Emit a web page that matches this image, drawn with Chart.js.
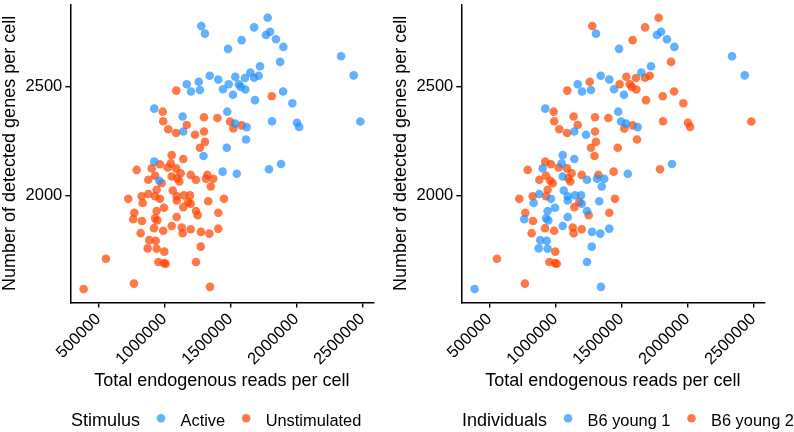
<!DOCTYPE html>
<html>
<head>
<meta charset="utf-8">
<script src="https://cdn.jsdelivr.net/npm/chart.js@4/dist/chart.umd.min.js"></script>
<style>
html, body { margin: 0; padding: 0; background: #fff; }
#wrap { position: relative; width: 794px; height: 432px; }
.panel { position: absolute; top: 0; height: 432px; }
</style>
</head>
<body>
<div id="wrap">
  <div class="panel" style="left:0;width:391px"><canvas id="stimulusChart"></canvas></div>
  <div class="panel" style="left:391px;width:403px"><canvas id="individualChart"></canvas></div>
</div>
<script>
// one entry per cell
const reads = [
    1783000, 1280000, 1308000, 1680000, 1801000, 1770000, 1846000, 1902000, 1586000, 1483000,
    2339000, 2435000, 2485000, 1877000, 1725000, 1652000, 1715000, 1680000, 1611000, 1538000,
    1564000, 1579000, 1614000, 1488000, 1445000, 1520000, 1409000, 1344000, 1261000, 1170000,
    1202000, 1270000, 1814000, 1900000, 1687000, 1970000, 1477000, 1816000, 2005000, 2021000,
    1301000, 1402000, 1498000, 1536000, 1523000, 1586000, 1624000, 1619000, 1473000, 1297000,
    1884000, 1442000, 1549000, 1793000,
    1091000, 924000, 988000, 1139000, 992000, 1030000, 1089000, 1144000, 1170000, 1233000,
    1301000, 1308000, 1270000,
    1056000, 1144000, 924000, 967000, 1049000, 791000, 905000, 1026000, 1089000, 1124000,
    930000, 962000, 879000, 980000, 1056000, 1099000, 1114000, 1200000, 1240000, 1326000,
    1316000, 1371000, 1352000, 727000, 829000, 836000, 879000, 942000, 930000, 967000,
    1064000, 1094000, 1094000, 1149000, 1195000, 1182000, 1200000, 1144000, 1333000, 1452000,
    773000, 765000, 831000, 942000, 998000, 930000, 947000, 1094000, 1240000, 1253000,
    1409000, 821000, 922000, 992000, 1056000, 1132000, 1139000, 1200000, 1278000, 1341000,
    1409000, 886000, 935000, 874000, 942000, 1000000, 1276000, 955000, 998000, 1011000,
    1240000, 389000, 558000, 770000, 1346000,
];
const genes = [
    2818, 2780, 2745, 2774, 2754, 2739, 2719, 2684, 2715, 2675,
    2641, 2553, 2341, 2615, 2595, 2566, 2551, 2542, 2541, 2547,
    2512, 2500, 2488, 2512, 2489, 2464, 2534, 2551, 2524, 2512,
    2479, 2486, 2457, 2479, 2439, 2425, 2386, 2342, 2335, 2316,
    2360, 2357, 2341, 2331, 2309, 2323, 2315, 2258, 2220, 2182,
    2145, 2110, 2100, 2121,
    2483, 2400, 2386, 2364, 2342, 2305, 2288, 2295, 2325, 2280,
    2295, 2247, 2220,
    2186, 2168, 2156, 2144, 2148, 2118, 2125, 2129, 2125, 2103,
    2091, 2068, 2073, 2057, 2088, 2080, 2065, 2095, 2073, 2095,
    2077, 2077, 2042, 1985, 1997, 1966, 2007, 2027, 1997, 1985,
    2023, 1997, 1977, 2001, 2001, 1970, 1962, 1947, 1974, 1985,
    1921, 1891, 1883, 1929, 1944, 1895, 1886, 1901, 1929, 1910,
    1921, 1827, 1850, 1838, 1860, 1853, 1827, 1845, 1833, 1825,
    1848, 1795, 1792, 1757, 1755, 1742, 1765, 1694, 1689, 1686,
    1694, 1570, 1709, 1595, 1580,
];
// 0 = Active, 1 = Unstimulated
const stimulus = [
    0, 0, 0, 0, 0, 0, 0, 0, 0, 0,
    0, 0, 0, 0, 0, 0, 0, 0, 0, 0,
    0, 0, 0, 0, 0, 0, 0, 0, 0, 0,
    0, 0, 1, 0, 0, 0, 0, 0, 0, 0,
    1, 1, 1, 0, 1, 1, 0, 0, 0, 0,
    0, 0, 0, 0,
    1, 0, 1, 0, 1, 1, 1, 0, 1, 1,
    1, 1, 1,
    1, 1, 0, 1, 1, 1, 1, 1, 1, 1,
    1, 0, 1, 1, 1, 1, 1, 1, 1, 1,
    1, 1, 1, 1, 1, 1, 1, 1, 1, 1,
    1, 1, 1, 1, 1, 1, 1, 1, 1, 1,
    1, 1, 1, 1, 1, 1, 1, 1, 1, 1,
    1, 1, 1, 1, 1, 1, 1, 1, 1, 1,
    1, 1, 1, 1, 1, 1, 1, 1, 1, 1,
    1, 1, 1, 1, 1,
];
// 0 = B6 young 1, 1 = B6 young 2
const individual = [
    1, 1, 0, 1, 0, 0, 0, 0, 1, 0,
    0, 0, 1, 1, 0, 0, 1, 1, 1, 1,
    1, 1, 1, 1, 0, 0, 0, 0, 1, 0,
    0, 0, 1, 1, 1, 1, 0, 1, 1, 1,
    1, 1, 0, 0, 1, 1, 0, 1, 1, 1,
    0, 1, 0, 1,
    1, 0, 1, 1, 1, 1, 1, 0, 1, 0,
    1, 1, 1,
    0, 0, 1, 1, 0, 1, 0, 1, 1, 1,
    1, 1, 1, 1, 0, 1, 1, 1, 0, 1,
    0, 0, 0, 1, 1, 0, 0, 1, 1, 0,
    0, 0, 0, 0, 0, 1, 0, 1, 0, 1,
    1, 0, 1, 0, 0, 0, 0, 0, 0, 1,
    1, 1, 1, 1, 0, 1, 1, 1, 0, 0,
    0, 0, 0, 0, 0, 1, 0, 1, 1, 1,
    0, 0, 1, 1, 0,
];

const stimulusLevels = ['Active', 'Unstimulated'];
const individualLevels = ['B6 young 1', 'B6 young 2'];
const xTicks = [500000, 1000000, 1500000, 2000000, 2500000];
const yTicks = [2000, 2500];

const palette = ['rgba(30,144,255,0.7)', 'rgba(255,69,0,0.72)'];
const fontFamily = '"Liberation Sans", Arial, sans-serif';

function buildDatasets(groups, levels) {
    return levels.map((name, g) => ({
        label: name,
        data: reads
            .map((r, i) => ({ x: r, y: genes[i], g: groups[i] }))
            .filter(p => p.g === g),
        backgroundColor: palette[g],
        borderWidth: 0,
        pointRadius: 4.3,
        pointHoverRadius: 4.3,
    }));
}

// legend in one row under the panel: title, dot, label, dot, label
const rowLegend = {
    id: 'rowLegend',
    afterDraw(chart, args, opts) {
        const ctx = chart.ctx;
        ctx.save();
        ctx.textBaseline = 'alphabetic';
        ctx.fillStyle = '#000';
        const y = 425.7;
        let x = 71;
        ctx.font = '18px ' + fontFamily;
        ctx.fillText(opts.title, x, y);
        x += ctx.measureText(opts.title).width;
        ctx.font = '16.4px ' + fontFamily;
        opts.labels.forEach((lab, i) => {
            const cx = x + 21;
            ctx.beginPath();
            ctx.arc(cx, 418.3, 4.3, 0, Math.PI * 2);
            ctx.fillStyle = palette[i];
            ctx.fill();
            ctx.fillStyle = '#000';
            ctx.fillText(lab, cx + 19.5, y);
            x = cx + 19.5 + ctx.measureText(lab).width;
        });
        ctx.restore();
    },
};

function makeOptions(rightPad, legendTitle, legendLabels) {
    const tickFont = { family: fontFamily, size: 16.5 };
    const titleFont = { family: fontFamily, size: 18, lineHeight: 1.1 };
    return {
        responsive: true,
        maintainAspectRatio: false,
        animation: false,
        layout: { padding: { top: 0.7, right: rightPad, bottom: 0, left: 0 } },
        plugins: {
            legend: { display: false },
            tooltip: { enabled: false },
            rowLegend: { title: legendTitle, labels: legendLabels },
        },
        scales: {
            x: {
                type: 'linear',
                min: 288000,
                max: 2584000,
                afterBuildTicks: s => { s.ticks = xTicks.map(v => ({ value: v })); },
                afterFit: s => { s.height = 129.5; },
                grid: { drawOnChartArea: false, drawTicks: true, tickLength: 5, color: '#000', lineWidth: 1.4 },
                border: { display: true, color: '#000', width: 1.5 },
                ticks: {
                    autoSkip: false,
                    maxRotation: 45,
                    minRotation: 45,
                    padding: 2,
                    color: '#000',
                    font: tickFont,
                    callback: v => String(v),
                },
                title: {
                    display: true,
                    text: 'Total endogenous reads per cell',
                    color: '#000',
                    font: titleFont,
                    padding: { top: 0, bottom: 41.5 },
                },
            },
            y: {
                type: 'linear',
                min: 1508,
                max: 2880,
                afterBuildTicks: s => { s.ticks = yTicks.map(v => ({ value: v })); },
                afterFit: s => {
                    s.width = 70.3;
                    s.paddingTop = 0;
                    s.paddingBottom = 0;
                },
                grid: { drawOnChartArea: false, drawTicks: true, tickLength: 5, color: '#000', lineWidth: 1.4 },
                border: { display: true, color: '#000', width: 1.5 },
                ticks: { padding: 3, color: '#000', font: tickFont, callback: v => String(v) },
                title: {
                    display: true,
                    text: 'Number of detected genes per cell',
                    color: '#000',
                    font: titleFont,
                    padding: { top: 0, bottom: 0 },
                },
            },
        },
    };
}

new Chart(document.querySelector('#stimulusChart'), {
    type: 'scatter',
    data: { datasets: buildDatasets(stimulus, stimulusLevels) },
    options: makeOptions(391 - 373.4, 'Stimulus', stimulusLevels),
    plugins: [rowLegend],
});

new Chart(document.querySelector('#individualChart'), {
    type: 'scatter',
    data: { datasets: buildDatasets(individual, individualLevels) },
    options: makeOptions(403 - 373.4, 'Individuals', individualLevels),
    plugins: [rowLegend],
});
</script>
</body>
</html>
